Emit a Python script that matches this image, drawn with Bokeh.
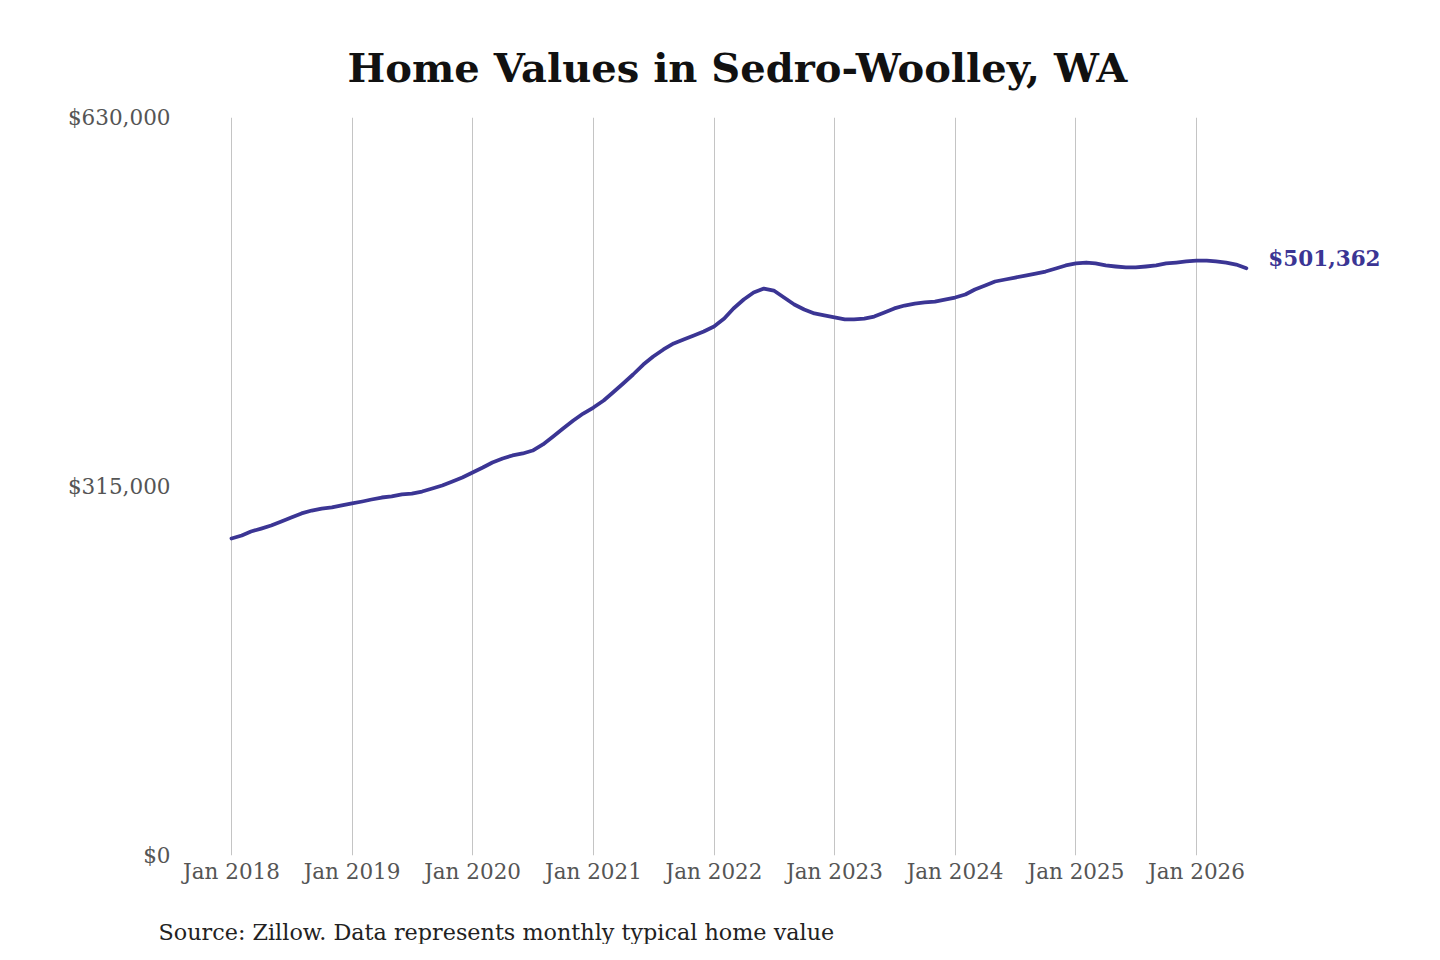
from datetime import datetime
from bokeh.plotting import figure
from bokeh.layouts import column
from bokeh.models import Range1d, FixedTicker, NumeralTickFormatter, DatetimeTickFormatter, Label, Title, ColumnDataSource
from bokeh.embed import file_html
from bokeh.resources import INLINE

# ---- data (monthly typical home value, Jan 2018 - Jun 2026) ----
start_year, start_month = 2018, 1
values = [
    270600, 273200, 276600, 279100, 281700, 285100, 288500, 292000, 294500, 296200, 297100, 298800,  # 2018
    300500, 302200, 303900, 305600, 306500, 308200, 309000, 310700, 313300, 315900, 319300, 322700,  # 2019
    327000, 331200, 335500, 338900, 341500, 343200, 345700, 350900, 357700, 364500, 371300, 377300,  # 2020
    382400, 388400, 395200, 402900, 410600, 419100, 426000, 432000, 437100, 440500, 443900, 447300,  # 2021
    451600, 458400, 467000, 474600, 480600, 484000, 482300, 476300, 470400, 466100, 462700, 461000,  # 2022
    459300, 457600, 457600, 458400, 460100, 463500, 467000, 469500, 471200, 472100, 472900, 474600,  # 2023
    476300, 478900, 483200, 486600, 490000, 491700, 493400, 495100, 496800, 498500, 501100, 503700,  # 2024
    505400, 506200, 505400, 503700, 502800, 502000, 502000, 502800, 503700, 505400, 506200, 507100,  # 2025
    507900, 507900, 507100, 506200, 504500, 501362,                                                  # 2026
]
dates = []
for i in range(len(values)):
    m = start_month - 1 + i
    dates.append(datetime(start_year + m // 12, m % 12 + 1, 1))

tick_years = [2018, 2019, 2020, 2021, 2022, 2023, 2024, 2025, 2026]
y_ticks = [0, 315000, 630000]
title_text = "Home Values in Sedro-Woolley, WA"
source_text = "Source: Zillow. Data represents monthly typical home value"
end_label = "$501,362"

FONT = "DejaVu Serif"
LINE_COLOR = "#3b3594"

W, H_MAIN, H_SRC = 1424, 900, 44
left, right, top, bottom = 176, 0, 117, 45

def ms(d):
    return (d - datetime(1970, 1, 1)).total_seconds() * 1000.0

frame_w = W - left - right
t0, t1 = ms(datetime(2018, 1, 1)), ms(datetime(2026, 1, 1))
px_per_ms = 965.0 / (t1 - t0)
x_start = t0 - (231 - left) / px_per_ms
x_end = x_start + frame_w / px_per_ms

p = figure(width=W, height=H_MAIN, x_axis_type="datetime", output_backend="svg",
           toolbar_location=None, x_range=Range1d(x_start, x_end),
           y_range=Range1d(0, 630000),
           min_border_left=left, min_border_right=right,
           min_border_top=top, min_border_bottom=bottom)
p.outline_line_color = None
p.background_fill_color = "white"
p.border_fill_color = "white"

p.title.text = title_text
p.title.text_font = FONT
p.title.text_font_style = "bold"
p.title.text_font_size = "40px"
p.title.text_color = "#111111"
p.title.align = "left"
p.title.offset = 347 - left
p.title.standoff = 54

src = ColumnDataSource(dict(date=dates, value=values))
p.line("date", "value", source=src, line_color=LINE_COLOR, line_width=3.8,
       line_join="round", line_cap="round")

xt = [ms(datetime(y, 1, 1)) for y in tick_years]
p.xaxis.ticker = FixedTicker(ticks=xt)
fmt = "%b %Y"
p.xaxis.formatter = DatetimeTickFormatter(years=fmt, months=fmt, days=fmt, hours=fmt,
                                          minutes=fmt, seconds=fmt, milliseconds=fmt)
p.xaxis.axis_line_color = None
p.xaxis.major_tick_line_color = None
p.xaxis.minor_tick_line_color = None
p.xaxis.major_label_text_font = FONT
p.xaxis.major_label_text_font_size = "21.5px"
p.xaxis.major_label_text_color = "#555555"
p.xaxis.major_label_standoff = -3

p.yaxis.ticker = FixedTicker(ticks=y_ticks)
p.yaxis.formatter = NumeralTickFormatter(format="$0,0")
p.yaxis.axis_line_color = None
p.yaxis.major_tick_line_color = None
p.yaxis.minor_tick_line_color = None
p.yaxis.major_label_text_font = FONT
p.yaxis.major_label_text_font_size = "21.5px"
p.yaxis.major_label_text_color = "#555555"
p.yaxis.major_label_standoff = 0

p.xgrid.ticker = FixedTicker(ticks=xt)
p.xgrid.grid_line_color = "#c4c4c4"
p.xgrid.grid_line_width = 1
p.ygrid.grid_line_color = None

p.add_layout(Label(x=ms(dates[-1]), y=values[-1], x_offset=22, y_offset=10,
                   text=end_label, text_font=FONT, text_font_style="bold",
                   text_font_size="21.5px", text_color=LINE_COLOR,
                   text_align="left", text_baseline="middle"))

# source line in a small strip below the chart
s = figure(width=W, height=H_SRC, output_backend="svg", toolbar_location=None,
           x_range=Range1d(0, 1), y_range=Range1d(0, 1), min_border=0)
s.axis.visible = False
s.grid.grid_line_color = None
s.outline_line_color = None
s.background_fill_color = "white"
s.border_fill_color = "white"
s.add_layout(Title(text=source_text, text_font=FONT, text_font_size="22.3px",
                   text_font_style="normal", text_color="#222222", align="left",
                   offset=-18, standoff=0), "below")

layout = column(p, s, spacing=0)
open("out.html", "w").write(file_html(layout, INLINE))
